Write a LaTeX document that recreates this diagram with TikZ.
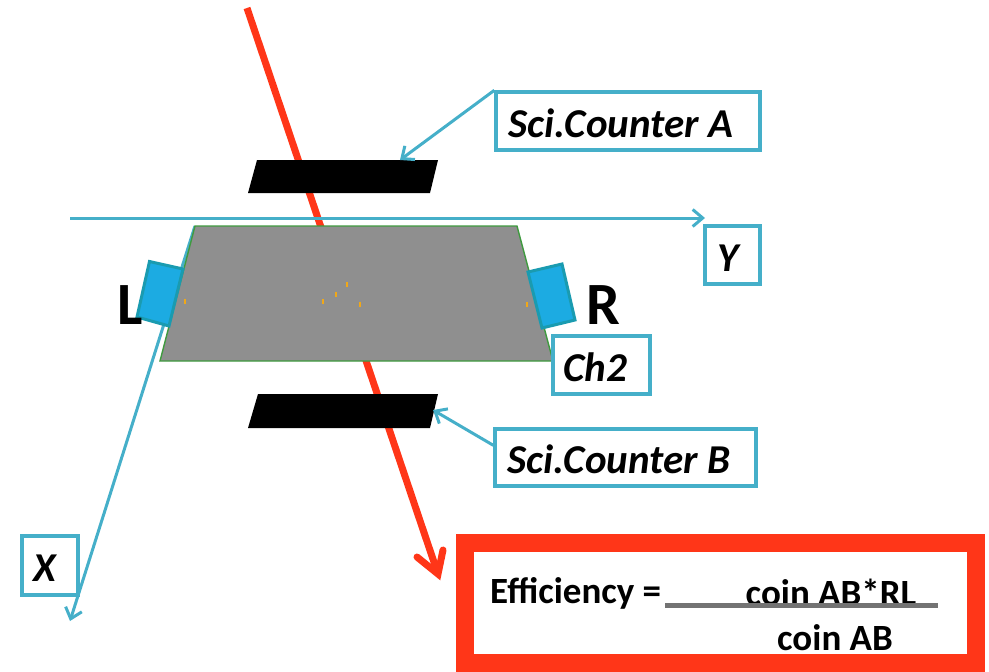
\documentclass[tikz,border=0pt]{standalone}
\usepackage{fontspec}
\setmainfont{Carlito}
\usetikzlibrary{arrows.meta}
\definecolor{axisblue}{HTML}{45AFC9}
\definecolor{hotred}{HTML}{FF3618}
\definecolor{pmfill}{HTML}{1CABE2}
\definecolor{pmedge}{HTML}{1A9BB0}
\definecolor{chgrey}{HTML}{8F8F8F}
\definecolor{chgreen}{HTML}{3F9A3F}
\definecolor{tickc}{HTML}{F0A818}
\tikzset{
  x=1pt,y=-1pt,
  lab/.style={draw=axisblue,line width=3.4pt,fill=white,inner sep=0pt,font=\fontsize{41}{44}\bfseries\itshape\selectfont,text=black,anchor=center,text height=32pt,text depth=0pt},
  axisline/.style={draw=axisblue,line width=3pt,-{Straight Barb[length=10pt,width=17pt]}},
  pointer/.style={draw=axisblue,line width=3pt,-{Straight Barb[length=10pt,width=17pt]}},
  beam/.style={draw=hotred,line width=7pt},
  counter/.style={fill=black,draw=none},
  pm/.style={fill=pmfill,draw=pmedge,line width=3pt,line join=miter},
  tickm/.style={draw=tickc,line width=1.2pt},
  big/.style={font=\fontsize{60}{60}\bfseries\selectfont,inner sep=0pt},
  eff/.style={font=\fontsize{37}{40}\bfseries\selectfont,inner sep=0pt,text=black}
}
\begin{document}
\begin{tikzpicture}
\useasboundingbox (0,0) rectangle (989,672);
% free end points
\coordinate (beamtop) at (247,8);
\coordinate (beamend) at (438,574);
\coordinate (yfrom) at (70,218);
\coordinate (yto) at (705,218);
\coordinate (xfrom) at (195,226);
\coordinate (xto) at (70,621);
\coordinate (ctrA) at (400,160);
\coordinate (ctrB) at (433,410);
% beam
\draw[beam,line cap=butt] (beamtop) -- (beamend);
\draw[hotred,line width=7pt,line cap=round,line join=miter] (417,557) -- (beamend) -- (443,550);
% axes
\draw[axisline] (yfrom) -- (yto);
\draw[axisline] (xfrom) -- (xto);
% chamber
\path[fill=chgrey,draw=chgreen,line width=1.4pt] (195,226) -- (517,226) -- (553,361) -- (160,361) -- cycle;
\foreach \tx/\ty in {185/301,323/301,336/294,347/284,360/304,527/304}
  \draw[tickm] (\tx,\ty-2.5) -- (\tx,\ty+2.5);
% PMTs
\path[pm] (149.5,261.5) -- (183,269) -- (169,326) -- (137,317) -- cycle;
\path[pm] (528,272) -- (562,264) -- (575,320) -- (542,328) -- cycle;
\node[big] (L) at (130,305) {L};
\node[big] (R) at (603,305) {R};
% counters
\path[counter] (257,160) -- (438,160) -- (430,193) -- (248,193) -- cycle;
\path[counter] (258,394) -- (438,394) -- (430,428) -- (248,428) -- cycle;
% labels
\node[lab,minimum width=264pt,minimum height=58pt] (sciA) at (628,121) {\hspace*{-14pt}Sci.Counter A};
\node[lab,minimum width=55pt,minimum height=58pt] (ylab) at (732.5,255) {\hspace*{-9pt}Y};
\node[lab,minimum width=97pt,minimum height=58pt] (ch2) at (601.5,365) {\hspace*{-13pt}Ch2};
\node[lab,minimum width=261pt,minimum height=57pt] (sciB) at (625.5,457.5) {\hspace*{-13pt}Sci.Counter B};
\node[lab,minimum width=56pt,minimum height=59pt] (xlab) at (50,565.5) {\hspace*{-11pt}X};
\draw[pointer] (sciA.north west) -- (ctrA);
\draw[pointer] (sciB.north west) ++(0,18) coordinate (bstart) (bstart) -- (ctrB);
% efficiency box
\node[draw=hotred,line width=18pt,fill=white,minimum width=511pt,minimum height=120pt,inner sep=0pt] (effbox) at (720.5,603) {};
\node[eff,anchor=west] (efft) at (490,593) {Efficiency =};
\node[eff] (num) at (831,592) {coin AB*RL};
\node[eff] (den) at (835,638) {coin AB};
\draw[draw=black!55,line width=5pt] (665,605) -- (938,605);
\end{tikzpicture}
\end{document}
